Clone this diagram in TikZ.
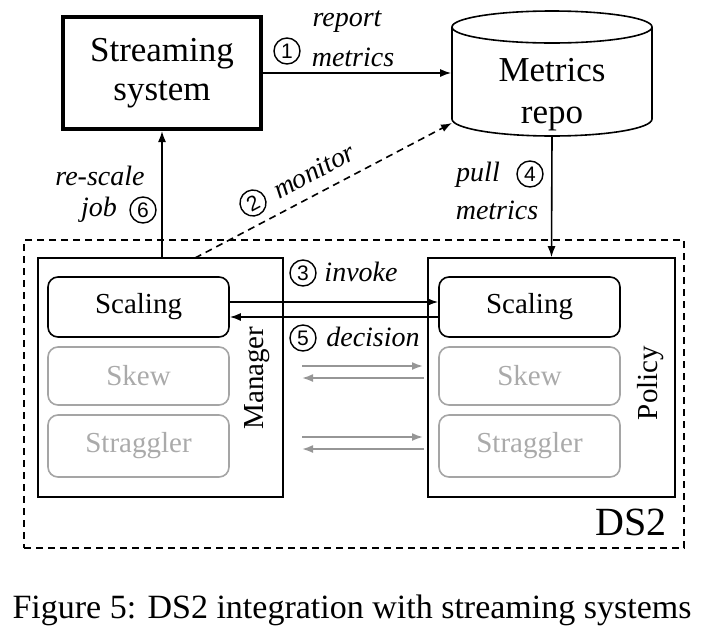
\documentclass[tikz,border=0pt]{standalone}
\usepackage{fontspec}
\setmainfont{Liberation Serif}
\newfontfamily\numfont{Liberation Sans}
\usetikzlibrary{arrows.meta}
\definecolor{boxgrey}{RGB}{165,165,165}
\definecolor{txtgrey}{RGB}{170,170,170}
\definecolor{arrgrey}{RGB}{150,150,150}
\tikzset{every picture/.style={line width=1.6pt}}
\tikzset{
	modbox/.style={draw, rounded corners=10pt, minimum width=181pt, minimum height=60pt, font=\fontsize{29}{30}\selectfont},
	greybox/.style={modbox, draw=boxgrey, text=txtgrey},
	numc/.style={draw, circle, line width=1.4pt, inner sep=0pt, minimum size=26pt, font=\numfont\fontsize{21}{21}\selectfont},
	lbl/.style={font=\itshape\fontsize{28}{30}\selectfont},
	tip/.style={-{Latex[length=11pt,width=8pt]}},
	greyarr/.style={draw=arrgrey, line width=1.8pt, -{Latex[length=11pt,width=8pt]}}}

\begin{document}
\begin{tikzpicture}[x=1pt,y=1pt,yscale=-1,xscale=1]
	\path[use as bounding box] (0,0) rectangle (720,638);

	%Shape: Rectangle [streaming system]
	\node[draw, line width=4pt, minimum width=198pt, minimum height=112pt, align=center, font=\fontsize{35}{39}\selectfont] (sys) at (162,73) {Streaming\\system};
	%Shape: Can [metrics repo]
	\draw (452,27) -- (452,119) arc[start angle=180, end angle=0, x radius=100, y radius=17] -- (652,27) ;
	\draw (552,27) ellipse [x radius=100, y radius=16] ;
	\node[minimum width=200pt, minimum height=125pt, inner sep=0pt] (repo) at (552,73.5) {};
	\node[align=center, font=\fontsize{35}{42}\selectfont] (rtx) at (552,95) {Metrics\\repo};

	%Shape: Rectangle [DS2]
	\node[draw, dashed, dash pattern=on 7pt off 5pt, minimum width=660pt, minimum height=308pt] (ds2) at (354,394) {};
	%Shape: Rectangle [manager]
	\node[draw, minimum width=245pt, minimum height=239pt] (mgr) at (160.5,377.5) {};
	%Shape: Rectangle [policy]
	\node[draw, minimum width=247pt, minimum height=239pt] (pol) at (551.5,377.5) {};

	%Shape: Rounded Rect
	\node[modbox] (scl) at (138.5,307) {Scaling};
	\node[greybox, minimum height=58pt] (skl) at (138.5,376) {Skew};
	\node[greybox, minimum height=62pt] (stl) at (138.5,446) {Straggler};
	\node[modbox] (scr) at (529.5,307) {Scaling};
	\node[greybox, minimum height=58pt] (skr) at (529.5,376) {Skew};
	\node[greybox, minimum height=62pt] (str) at (529.5,446) {Straggler};

	%Straight Lines
	\draw[tip] (sys.east) -- (sys.east -| repo.west) ;
	\coordinate (monfrom) at (195,258) ;
	\coordinate (monto) at (452,123) ;
	\draw[tip, dashed, dash pattern=on 7pt off 5pt] (monfrom) -- (monto) ;
	\draw[tip] (mgr.north -| sys.south) -- (sys.south) ;
	\draw[tip] (repo.south) -- (pol.north) ;
	\draw[tip] ([yshift=-5pt]scl.east) -- ([yshift=-5pt]scr.west) ;
	\draw[tip] ([yshift=10pt]scr.west) -- ([yshift=10pt]scl.east) ;
	%Straight Lines [grey]
	\coordinate (ga) at (302,366) ;
	\coordinate (gb) at (423,366) ;
	\coordinate (gc) at (302,378) ;
	\coordinate (gd) at (424,378) ;
	\coordinate (ge) at (302,437) ;
	\coordinate (gf) at (423,437) ;
	\coordinate (gg) at (302,449) ;
	\coordinate (gh) at (424,449) ;
	\draw[greyarr] (ga) -- (gb) ;
	\draw[greyarr] (gd) -- (gc) ;
	\draw[greyarr] (ge) -- (gf) ;
	\draw[greyarr] (gh) -- (gg) ;

	% Text Node
	\node[numc] (n1) at (287,51) {1};
	\node[lbl] (rep) at (347,22) {report};
	\node[lbl] (repm) at (353,57) {metrics};
	% Text Node
	\node[numc, rotate=28] (n2) at (253,203) {2};
	\node[lbl, rotate=28] (mon) at (314,171) {monitor};
	% Text Node
	\node[numc] (n3) at (303,273) {3};
	\node[lbl] (inv) at (361,272) {invoke};
	% Text Node
	\node[numc] (n4) at (530,174) {4};
	\node[lbl] (pul) at (478,175) {pull};
	\node[lbl] (pulm) at (497,210) {metrics};
	% Text Node
	\node[numc] (n5) at (303,338) {5};
	\node[lbl] (dec) at (373,337) {decision};
	% Text Node
	\node[numc] (n6) at (143,210) {6};
	\node[lbl] (res) at (100,176) {re-scale};
	\node[lbl] (job) at (99,210) {job};
	% Text Node
	\node[rotate=90, font=\fontsize{29}{30}\selectfont] (mtx) at (257,378) {Manager};
	\node[rotate=90, font=\fontsize{29}{30}\selectfont] (ptx) at (651,383) {Policy};
	\node[font=\fontsize{40}{40}\selectfont] (dtx) at (631,522) {DS2};
	% Text Node
	\node[font=\fontsize{34}{34}\selectfont] (cap) at (352,610) {Figure 5: DS2 integration with streaming systems};
\end{tikzpicture}
\end{document}
